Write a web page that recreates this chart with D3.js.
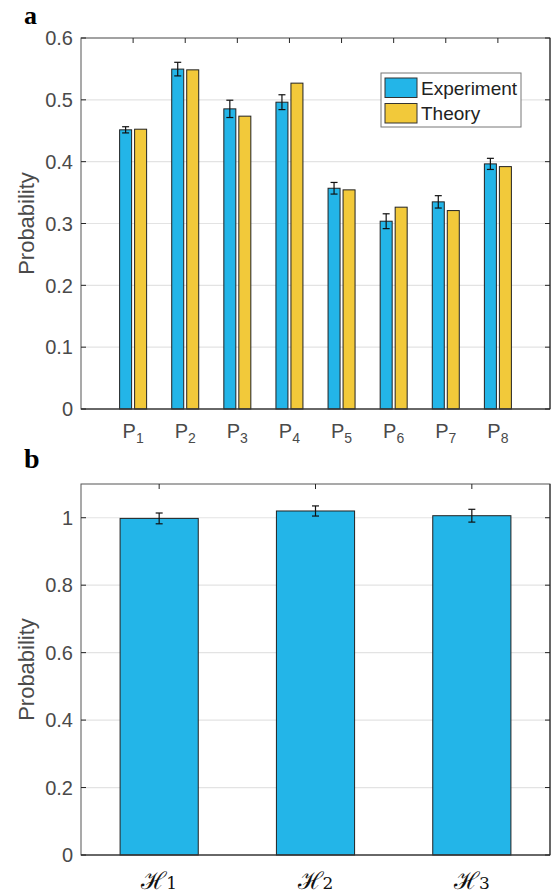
<!DOCTYPE html>
<html>
<head>
<meta charset="utf-8">
<script src="https://cdn.jsdelivr.net/npm/d3@7"></script>
<style>
  body { margin: 0; background: #fff; }
  svg { display: block; font-family: "Liberation Sans", Arial, sans-serif; }
</style>
</head>
<body>
<div id="chart"></div>
<script>
// panel a data
const categoriesA = ["1", "2", "3", "4", "5", "6", "7", "8"];
const experiment = [0.4515, 0.5497, 0.4854, 0.4962, 0.357, 0.3037, 0.335, 0.3964];
const experimentErr = [0.005, 0.011, 0.014, 0.012, 0.0094, 0.012, 0.010, 0.009];
const theory = [0.4525, 0.5485, 0.4736, 0.527, 0.3544, 0.3264, 0.3209, 0.392];
const ticksA = [0, 0.1, 0.2, 0.3, 0.4, 0.5, 0.6];
const seriesNames = ["Experiment", "Theory"];

// panel b data
const categoriesB = ["1", "2", "3"];
const hValues = [0.998, 1.020, 1.006];
const hErr = [0.016, 0.015, 0.019];
const ticksB = [0, 0.2, 0.4, 0.6, 0.8, 1];

const blue = "#23b5e8", yellow = "#f2c93a";
const gridColor = "#e3e3e3", axisColor = "#262626", tickText = "#4a4a4a";
const width = 554, height = 896;

const svg = d3.select("#chart").append("svg")
    .attr("width", width)
    .attr("height", height);

function drawFrame(g, x0, x1, y, ticks, fmt, xTicks) {
    const [yb, yt] = y.range();
    // grid
    g.selectAll(".grid").data(ticks.filter(t => t > 0)).enter()
        .append("line")
        .attr("x1", x0).attr("x2", x1)
        .attr("y1", d => y(d)).attr("y2", d => y(d))
        .attr("stroke", gridColor).attr("stroke-width", 1.2);
    return {
        finish: () => {
            // box
            g.append("rect")
                .attr("x", x0).attr("y", yt)
                .attr("width", x1 - x0).attr("height", yb - yt)
                .attr("fill", "none")
                .attr("stroke", "#555").attr("stroke-width", 1);
            g.append("line").attr("x1", x0).attr("x2", x1).attr("y1", yb).attr("y2", yb)
                .attr("stroke", axisColor).attr("stroke-width", 1.2);
            g.append("line").attr("x1", x1).attr("x2", x1).attr("y1", yt).attr("y2", yb)
                .attr("stroke", axisColor).attr("stroke-width", 1);
            // ticks (inward, mirrored)
            ticks.forEach(t => {
                g.append("line").attr("x1", x1 - 5).attr("x2", x1)
                    .attr("y1", y(t)).attr("y2", y(t)).attr("stroke", axisColor);
                g.append("line").attr("x1", x0).attr("x2", x0 + 5)
                    .attr("y1", y(t)).attr("y2", y(t)).attr("stroke", axisColor);
            });
            xTicks.forEach(xv => {
                g.append("line").attr("x1", xv).attr("x2", xv)
                    .attr("y1", yt).attr("y2", yt + 5).attr("stroke", axisColor);
            });
            // y tick labels
            g.selectAll(".ylab").data(ticks).enter()
                .append("text")
                .attr("x", x0 - 8)
                .attr("y", d => y(d))
                .attr("dy", "0.36em")
                .attr("text-anchor", "end")
                .attr("font-size", 20)
                .attr("fill", tickText)
                .text(fmt);
        }
    };
}

function drawErr(g, cx, top, bottom) {
    g.append("line").attr("x1", cx).attr("x2", cx).attr("y1", top).attr("y2", bottom)
        .attr("stroke", "#111").attr("stroke-width", 1.2);
    [top, bottom].forEach(v => g.append("line")
        .attr("x1", cx - 3.5).attr("x2", cx + 3.5).attr("y1", v).attr("y2", v)
        .attr("stroke", "#111").attr("stroke-width", 1.2));
}

// ---------- panel a ----------
const axA = {left: 81, right: 550, top: 38, bottom: 409};
const xA = d3.scaleLinear().domain([0, 9]).range([axA.left, axA.right]);
const yA = d3.scaleLinear().domain([0, 0.6]).range([axA.bottom, axA.top]);
const gA = svg.append("g");
const frameA = drawFrame(gA, axA.left, axA.right, yA, ticksA,
    d => d === 0 ? "0" : d3.format(".1f")(d), categoriesA.map((c, i) => xA(i + 1)));

const barW = 12, off = 7.5;
categoriesA.forEach((c, i) => {
    const cx = xA(i + 1);
    gA.append("rect")
        .attr("x", cx - off - barW / 2).attr("y", yA(experiment[i]))
        .attr("width", barW).attr("height", yA(0) - yA(experiment[i]))
        .attr("fill", blue).attr("stroke", "#222").attr("stroke-width", 1);
    gA.append("rect")
        .attr("x", cx + off - barW / 2).attr("y", yA(theory[i]))
        .attr("width", barW).attr("height", yA(0) - yA(theory[i]))
        .attr("fill", yellow).attr("stroke", "#222").attr("stroke-width", 1);
    drawErr(gA, cx - off, yA(experiment[i] + experimentErr[i]), yA(experiment[i] - experimentErr[i]));
    // x tick label P_i
    const t = gA.append("text")
        .attr("x", cx)
        .attr("y", 438)
        .attr("text-anchor", "middle")
        .attr("font-size", 20)
        .attr("fill", tickText);
    t.append("tspan").text("P");
    t.append("tspan").attr("font-size", 14).attr("dy", 5).text(c);
});
frameA.finish();

gA.append("text")
    .attr("transform", `translate(34,${(axA.top + axA.bottom) / 2}) rotate(-90)`)
    .attr("text-anchor", "middle")
    .attr("font-size", 22)
    .attr("fill", tickText)
    .text("Probability");

// legend
const lg = gA.append("g").attr("transform", "translate(381,73)");
lg.append("rect").attr("width", 140).attr("height", 54)
    .attr("fill", "#fff").attr("stroke", "#777").attr("stroke-width", 1);
[blue, yellow].forEach((col, i) => {
    lg.append("rect").attr("x", 4).attr("y", 5 + i * 25.5)
        .attr("width", 32).attr("height", 19.5)
        .attr("fill", col).attr("stroke", "#333").attr("stroke-width", 1);
    lg.append("text").attr("x", 40).attr("y", 15 + i * 25.5).attr("dy", "0.36em")
        .attr("font-size", 19).attr("fill", "#222").text(seriesNames[i]);
});

svg.append("text").attr("x", 24).attr("y", 24)
    .attr("font-family", "'Liberation Serif', 'Times New Roman', serif")
    .attr("font-weight", "bold").attr("font-size", 26).text("a");

// ---------- panel b ----------
const axB = {left: 81, right: 550, top: 484, bottom: 855};
const xB = d3.scaleLinear().domain([0.5, 3.5]).range([axB.left, axB.right]);
const yB = d3.scaleLinear().domain([0, 1.1]).range([axB.bottom, axB.top]);
const gB = svg.append("g");
const frameB = drawFrame(gB, axB.left, axB.right, yB, ticksB,
    d => d === 0 || d === 1 ? String(d) : d3.format(".1f")(d), categoriesB.map((c, i) => xB(i + 1)));

const bw = xB(1.25) - xB(0.75);
categoriesB.forEach((c, i) => {
    const cx = xB(i + 1);
    gB.append("rect")
        .attr("x", cx - bw / 2).attr("y", yB(hValues[i]))
        .attr("width", bw).attr("height", yB(0) - yB(hValues[i]))
        .attr("fill", blue).attr("stroke", "#222").attr("stroke-width", 1);
    drawErr(gB, cx, yB(hValues[i] + hErr[i]), yB(hValues[i] - hErr[i]));
    const t = gB.append("text")
        .attr("x", cx)
        .attr("y", 889)
        .attr("text-anchor", "middle")
        .attr("font-family", "'DejaVu Serif', serif")
        .attr("font-size", 24)
        .attr("fill", "#111");
    t.append("tspan").text("\u210B");
    t.append("tspan").attr("font-size", 17).text(c);
});
frameB.finish();

gB.append("text")
    .attr("transform", `translate(34,${(axB.top + axB.bottom) / 2}) rotate(-90)`)
    .attr("text-anchor", "middle")
    .attr("font-size", 22)
    .attr("fill", tickText)
    .text("Probability");

svg.append("text").attr("x", 24).attr("y", 468)
    .attr("font-family", "'Liberation Serif', 'Times New Roman', serif")
    .attr("font-weight", "bold").attr("font-size", 28).text("b");
</script>
</body>
</html>
